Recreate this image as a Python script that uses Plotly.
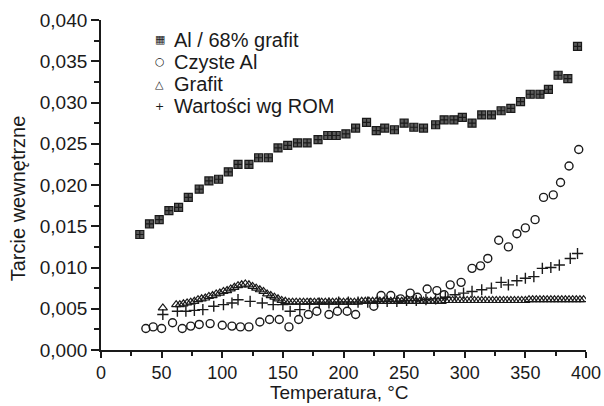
import plotly.graph_objects as go

# Al / 68% grafit
al_gr_x = [32, 40, 48, 56, 64, 72, 81, 89, 97, 105, 113, 122, 130, 138, 146, 154, 162, 170,
           179, 187, 194, 202, 210, 219, 227, 234, 242, 250, 258, 266, 276, 283, 291, 298,
           306, 314, 322, 330, 338, 346, 354, 362, 369, 377, 385, 393]
al_gr_y = [0.0140, 0.0153, 0.0158, 0.0169, 0.0173, 0.0185, 0.0195, 0.0205, 0.0207, 0.0216,
           0.0225, 0.0225, 0.0233, 0.0233, 0.0245, 0.0248, 0.0251, 0.0251, 0.0255, 0.0260,
           0.0260, 0.0262, 0.0269, 0.0276, 0.0266, 0.0269, 0.0267, 0.0275, 0.0270, 0.0269,
           0.0273, 0.0279, 0.0279, 0.0282, 0.0275, 0.0285, 0.0285, 0.0290, 0.0293, 0.0301,
           0.0310, 0.0310, 0.0316, 0.0333, 0.0329, 0.0368]

# Czyste Al
al_x = [37, 43, 50, 59, 67, 74, 81, 90, 100, 108, 115, 122, 131, 139, 147, 155, 163, 171,
        178, 188, 195, 203, 210, 225, 231, 239, 247, 255, 261, 269, 277, 283, 288, 297,
        306, 313, 319, 328, 336, 343, 350, 358, 365, 373, 379, 386, 394]
al_y = [0.0026, 0.0028, 0.0026, 0.0033, 0.0026, 0.0029, 0.0031, 0.0032, 0.0030, 0.0029,
        0.0028, 0.0028, 0.0034, 0.0037, 0.0037, 0.0028, 0.0037, 0.0043, 0.0047, 0.0043,
        0.0047, 0.0047, 0.0043, 0.0053, 0.0066, 0.0066, 0.0062, 0.0069, 0.0064, 0.0074,
        0.0072, 0.0067, 0.0079, 0.0082, 0.0099, 0.0102, 0.0111, 0.0133, 0.0125, 0.0141,
        0.0148, 0.0158, 0.0185, 0.0188, 0.0203, 0.0223, 0.0243]

# Grafit
gr_x = [51, 62, 65, 68, 71, 74, 77, 80, 83, 86, 89, 92, 95, 98, 101, 104, 107, 110, 113, 116,
        119, 122, 125, 128, 131, 134, 137, 140, 143, 146, 149, 152, 155, 158, 161, 164, 167,
        170, 173, 176, 179, 182, 185, 188, 191, 194, 197, 200, 203, 206, 209, 212, 215, 218,
        221, 224, 227, 230, 233, 236, 239, 242, 245, 248, 251, 254, 257, 260, 263, 266, 269,
        272, 275, 278, 281, 284, 287, 290, 293, 296, 299, 302, 305, 308, 311, 314, 317, 320,
        323, 326, 329, 332, 335, 338, 341, 344, 347, 350, 353, 356, 359, 362, 365, 368, 371,
        374, 377, 380, 383, 386, 389, 392, 395, 398]
gr_y = [0.0051, 0.0055, 0.0055, 0.0056, 0.0057, 0.0058, 0.0059, 0.0061, 0.0062, 0.0063,
        0.0065, 0.0066, 0.0068, 0.0069, 0.0071, 0.0072, 0.0074, 0.0076, 0.0078, 0.0079,
        0.0080, 0.0079, 0.0077, 0.0075, 0.0073, 0.0071, 0.0068, 0.0066, 0.0064, 0.0062,
        0.0060, 0.0059, 0.0058, 0.0058, 0.0058, 0.0058, 0.0058, 0.0058, 0.0058, 0.0058,
        0.0058, 0.0058, 0.0058, 0.0058, 0.0058, 0.0058, 0.0058, 0.0058, 0.0058, 0.0058,
        0.0058, 0.0058, 0.0059, 0.0059, 0.0059, 0.0059, 0.0059, 0.0059, 0.0059, 0.0059,
        0.0059, 0.0059, 0.0059, 0.0059, 0.0059, 0.0059, 0.0059, 0.0059, 0.0059, 0.0059,
        0.0059, 0.0059, 0.0059, 0.0059, 0.0059, 0.0060, 0.0060, 0.0060, 0.0060, 0.0060,
        0.0060, 0.0060, 0.0060, 0.0060, 0.0060, 0.0060, 0.0060, 0.0060, 0.0060, 0.0060,
        0.0060, 0.0060, 0.0060, 0.0060, 0.0060, 0.0060, 0.0060, 0.0060, 0.0061, 0.0061,
        0.0061, 0.0061, 0.0061, 0.0061, 0.0061, 0.0061, 0.0061, 0.0061, 0.0061, 0.0061,
        0.0061, 0.0061, 0.0061, 0.0061]

# Wartości wg ROM
rom_x = [51, 63, 70, 77, 84, 93, 101, 108, 113, 123, 133, 142, 150, 156, 164, 172, 180, 188,
         196, 204, 212, 220, 228, 236, 244, 252, 260, 268, 276, 284, 292, 299, 306, 314, 322,
         330, 336, 343, 350, 357, 364, 371, 378, 387, 393]
rom_y = [0.0043, 0.0047, 0.0047, 0.0048, 0.0049, 0.0053, 0.0055, 0.0057, 0.0061, 0.0059,
         0.0057, 0.0055, 0.0055, 0.0047, 0.0049, 0.0056, 0.0057, 0.0057, 0.0058, 0.0058,
         0.0058, 0.0058, 0.0059, 0.0059, 0.0059, 0.0060, 0.0060, 0.0061, 0.0062, 0.0064,
         0.0067, 0.0069, 0.0071, 0.0073, 0.0075, 0.0082, 0.0079, 0.0084, 0.0087, 0.0089,
         0.0099, 0.0100, 0.0103, 0.0111, 0.0117]

series_names = ["Al / 68% grafit", "Czyste Al", "Grafit", "Wartości wg ROM"]
legend_glyphs = ["▦", "○", "△", "+"]
x_ticks = [0, 50, 100, 150, 200, 250, 300, 350, 400]
y_ticks = [0.000, 0.005, 0.010, 0.015, 0.020, 0.025, 0.030, 0.035, 0.040]

FONT = "Liberation Sans, Arial, sans-serif"
INK = "#1a1a1a"

fig = go.Figure()
fig.add_trace(go.Scatter(
    x=al_gr_x, y=al_gr_y, mode="markers", name=series_names[0],
    marker=dict(symbol="square-cross", size=8, color="#5a5a5a",
                line=dict(color=INK, width=1.2))))
fig.add_trace(go.Scatter(
    x=al_x, y=al_y, mode="markers", name=series_names[1],
    marker=dict(symbol="circle-open", size=8, color=INK,
                line=dict(color=INK, width=1.4))))
fig.add_trace(go.Scatter(
    x=gr_x, y=gr_y, mode="markers", name=series_names[2],
    marker=dict(symbol="triangle-up-open", size=8, color=INK,
                line=dict(color=INK, width=1.2))))
fig.add_trace(go.Scatter(
    x=rom_x, y=rom_y, mode="markers", name=series_names[3],
    marker=dict(symbol="cross-thin", size=8, color=INK,
                line=dict(color=INK, width=1.4))))

# legend drawn as text annotations (tight line spacing as in the reference)
annotations = []
leg_y = [0.940, 0.873, 0.806, 0.739]
for i, (name, glyph) in enumerate(zip(series_names, legend_glyphs)):
    annotations.append(dict(xref="paper", yref="paper", x=0.1216, y=leg_y[i],
                            xanchor="center", yanchor="middle", showarrow=False,
                            text=glyph, font=dict(family="DejaVu Sans", size=11, color=INK)))
    annotations.append(dict(xref="paper", yref="paper", x=0.1464, y=leg_y[i],
                            xanchor="left", yanchor="middle", showarrow=False,
                            text=name, font=dict(family=FONT, size=20, color=INK)))
annotations.append(dict(xref="paper", yref="paper", x=-0.171, y=0.46,
                        xanchor="center", yanchor="middle", showarrow=False, textangle=-90,
                        text="Tarcie wewnętrzne", font=dict(family=FONT, size=20, color=INK)))
annotations.append(dict(xref="paper", yref="paper", x=0.492, y=-0.168,
                        xanchor="center", yanchor="bottom", showarrow=False,
                        text="Temperatura, °C", font=dict(family=FONT, size=19, color=INK)))

fig.update_layout(
    width=604, height=406,
    margin=dict(l=101, r=18, t=20, b=56, autoexpand=False),
    paper_bgcolor="white", plot_bgcolor="white",
    separators=", ",
    font=dict(family=FONT, size=19, color=INK),
    showlegend=False,
    annotations=annotations,
    xaxis=dict(range=[0, 400], tickvals=x_ticks, ticktext=[str(v) for v in x_ticks],
               automargin=False,
               showgrid=False, zeroline=False, showline=True, linecolor=INK,
               linewidth=1.8, ticks="outside", ticklen=6, tickwidth=1.6,
               tickcolor=INK, ticklabelstandoff=-1,
               minor=dict(dtick=25, ticks="outside", ticklen=4, tickwidth=1.6,
                          tickcolor=INK, tick0=0),
               tickfont=dict(family=FONT, size=18, color=INK)),
    yaxis=dict(range=[0, 0.040], tickvals=y_ticks, tickformat=".3f",
               automargin=False,
               showgrid=False, zeroline=False, showline=True, linecolor=INK,
               linewidth=1.8, ticks="outside", ticklen=8, tickwidth=1.6,
               tickcolor=INK,
               minor=dict(dtick=0.0025, ticks="outside", ticklen=5, tickwidth=1.6,
                          tickcolor=INK, tick0=0),
               tickfont=dict(family=FONT, size=19, color=INK)),
)

fig.write_html("out.html")
